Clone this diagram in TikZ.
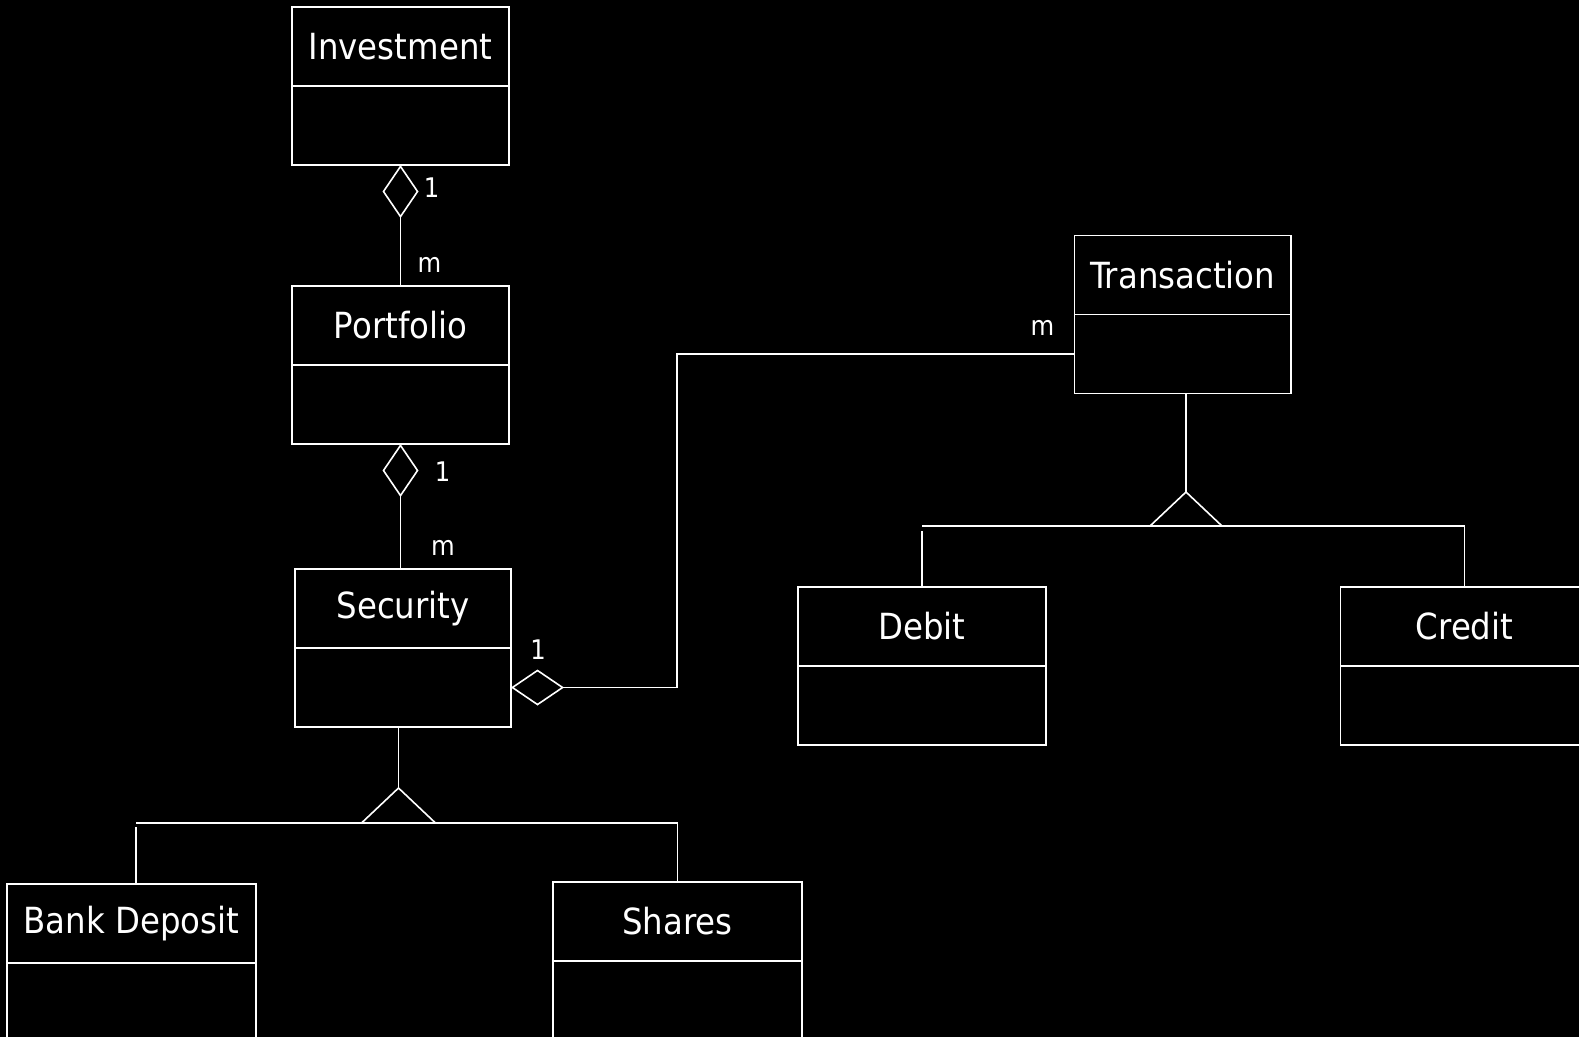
\documentclass[tikz,border=0pt]{standalone}
\usepackage{fontspec}
\setmainfont{DejaVu Sans Condensed}
\usetikzlibrary{positioning,arrows.meta}
\begin{document}
\begin{tikzpicture}[x=1pt,y=-1pt,line width=1.6pt,white,
    classname/.style={draw,outer sep=0pt,inner sep=0pt,minimum height=79pt,
      font=\fontsize{36pt}{40pt}\selectfont},
    classbody/.style={draw,outer sep=0pt,inner sep=0pt,minimum height=79pt},
    mult/.style={font=\fontsize{27pt}{30pt}\selectfont,inner sep=0pt},
    aggr/.style={{Diamond[open,length=53pt,width=36pt]}-},
    gen/.style={line join=miter}]
  % background and page size
  \path[use as bounding box,fill=black] (0,0) rectangle (1579,1037);
  %% the classes: name / x / top / width / text
  \foreach \n/\x/\y/\w/\t in {invest/400.5/7/217/Investment,
      port/400.5/286/217/Portfolio, sec/403/569/216/Security,
      trans/1182.75/235.5/216.5/Transaction, debit/922/587/248/Debit,
      credit/1464.5/587/248/Credit, bank/131.5/884/249/Bank Deposit,
      shares/677.5/882/249/Shares}
  {
    \node[classname,minimum width=\w pt,anchor=north] (\n) at (\x,\y) {\t};
    \node[classbody,minimum width=\w pt,below=0pt of \n] (\n b) {};
  }
  % aggregations
  \draw[aggr] (investb.south) -- (port.north);
  \node[mult] at ([shift={(31,23)}]investb.south) {1};
  \node[mult] at ([shift={(29,-21)}]port.north) {m};
  \draw[aggr] (portb.south) -- (portb.south |- sec.north);
  \node[mult] at ([shift={(42,28)}]portb.south) {1};
  \node[mult] at ([shift={(40,-21)}]sec.north) {m};
  \coordinate (bend) at (677,353);
  \draw[aggr] (secb.east) -- (secb.east -| bend) |- (transb.west);
  \node[mult] at ([shift={(27,-38)}]secb.east) {1};
  \node[mult] at ([shift={(-32,-26)}]transb.west) {m};
  %% generalizations
  \coordinate (secbar) at (398.5,823);
  \coordinate (bankdrop) at (136,823);
  \draw[gen] (secbar) +(-37,0) -- +(0,-35) -- +(37,0) -- cycle;
  \draw (secbar |- secb.south) -- ([yshift=35pt]secbar);
  \draw (bankdrop) -- (shares.north |- secbar);
  \draw (bankdrop) ++(0,4) -- (bankdrop |- bank.north);
  \draw (shares.north |- secbar) -- (shares.north);
  \coordinate (transbar) at (1186,526);
  \draw[gen] (transbar) +(-36,0) -- +(0,-34) -- +(36,0) -- cycle;
  \draw (transbar |- transb.south) -- ([yshift=34pt]transbar);
  \draw (debit.north |- transbar) -- (credit.north |- transbar);
  \draw (debit.north |- transbar) ++(0,5) -- (debit.north);
  \draw (credit.north |- transbar) -- (credit.north);
\end{tikzpicture}
\end{document}
